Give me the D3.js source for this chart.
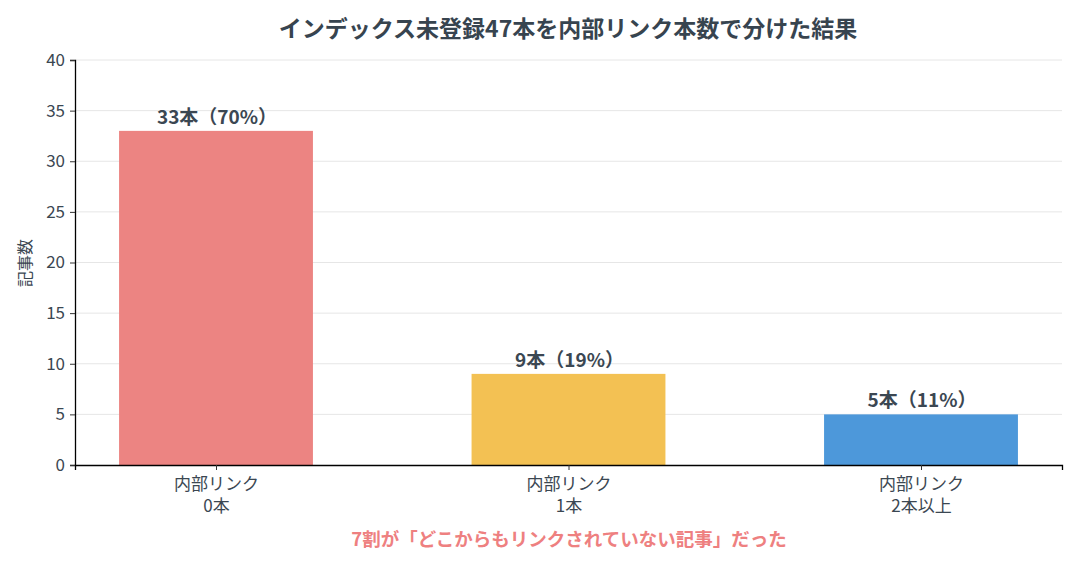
<!DOCTYPE html>
<html><head><meta charset="utf-8">
<script src="https://cdn.jsdelivr.net/npm/d3@7"></script>
<style>
html,body{margin:0;padding:0;background:#fff;}
text{font-family:"Noto Sans CJK JP","Noto Sans",sans-serif;}
</style></head>
<body><svg id="c" width="1080" height="576"></svg>
<script>
const categories = ["内部リンク\n0本", "内部リンク\n1本", "内部リンク\n2本以上"];
const counts = [33, 9, 5];
const labels = ["33本（70%）", "9本（19%）", "5本（11%）"];
const colors = ["#ec8482", "#f3c153", "#4d98da"];
const yTicks = [0, 5, 10, 15, 20, 25, 30, 35, 40];
const title = "インデックス未登録47本を内部リンク本数で分けた結果";
const yLabel = "記事数";
const note = "7割が「どこからもリンクされていない記事」だった";

const svg = d3.select("#c");
const m = {l:75, r:1062, t:60, b:465};
const textCol = "#3b4752";
const ff = '"Noto Sans CJK JP","Noto Sans",sans-serif';

const x = d3.scaleLinear().domain([-0.4, 2.4]).range([m.l, m.r]);
const y = d3.scaleLinear().domain([0, 40]).range([m.b, m.t]);
const bw = x(0.55) - x(0);

// grid
svg.append("g").selectAll("line").data(yTicks.filter(d=>d>0)).join("line")
  .attr("x1", m.l).attr("x2", m.r).attr("y1", d=>y(d)).attr("y2", d=>y(d))
  .attr("stroke", "#e6e6e6").attr("stroke-width", 1);

// bars
svg.append("g").selectAll("rect").data(counts).join("rect")
  .attr("x", (d,i)=>x(i)-bw/2).attr("width", bw)
  .attr("y", d=>y(d)).attr("height", d=>y(0)-y(d))
  .attr("fill", (d,i)=>colors[i]);

// bar labels
svg.append("g").selectAll("text").data(counts).join("text")
  .attr("x", (d,i)=>x(i)+1).attr("y", d=>y(d)-7)
  .attr("text-anchor","middle").attr("font-size", 19).attr("font-weight", "bold")
  .attr("fill", textCol).text((d,i)=>labels[i]);

// y axis
const ya = svg.append("g").attr("transform", `translate(${m.l},0)`)
  .call(d3.axisLeft(y).tickValues(yTicks).tickSize(5).tickPadding(5));
ya.select(".domain").attr("stroke","#000").attr("stroke-width",1.3);
ya.selectAll(".tick line").attr("stroke","#333");
ya.selectAll(".tick text").attr("font-size",17).attr("fill",textCol).style("font-family",ff);

// x axis
const xa = svg.append("g").attr("transform", `translate(0,${m.b})`)
  .call(d3.axisBottom(x).tickValues([0,1,2]).tickSize(5).tickFormat(""));
xa.select(".domain").attr("stroke","#000").attr("stroke-width",1.3);
xa.selectAll(".tick line").attr("stroke","#333");
xa.selectAll(".tick").each(function(d){
  const lines = categories[d].split("\n");
  lines.forEach((s,k)=>d3.select(this).append("text").attr("fill",textCol).attr("font-size",17)
    .attr("text-anchor","middle").style("font-family",ff)
    .attr("x",0).attr("y",25+k*22).text(s));
});

// title
svg.append("text").attr("x", 568).attr("y", 37).attr("text-anchor","middle")
  .attr("font-size", 23).attr("font-weight","bold").attr("fill","#37444f").text(title);

// y label
svg.append("text").attr("transform","translate(31,263) rotate(-90)")
  .attr("text-anchor","middle").attr("font-size",16).attr("fill",textCol).text(yLabel);

// note
svg.append("text").attr("x", 569).attr("y", 546).attr("text-anchor","middle")
  .attr("font-size", 18.5).attr("font-weight","bold").attr("fill","#ee8080").text(note);
</script></body></html>
